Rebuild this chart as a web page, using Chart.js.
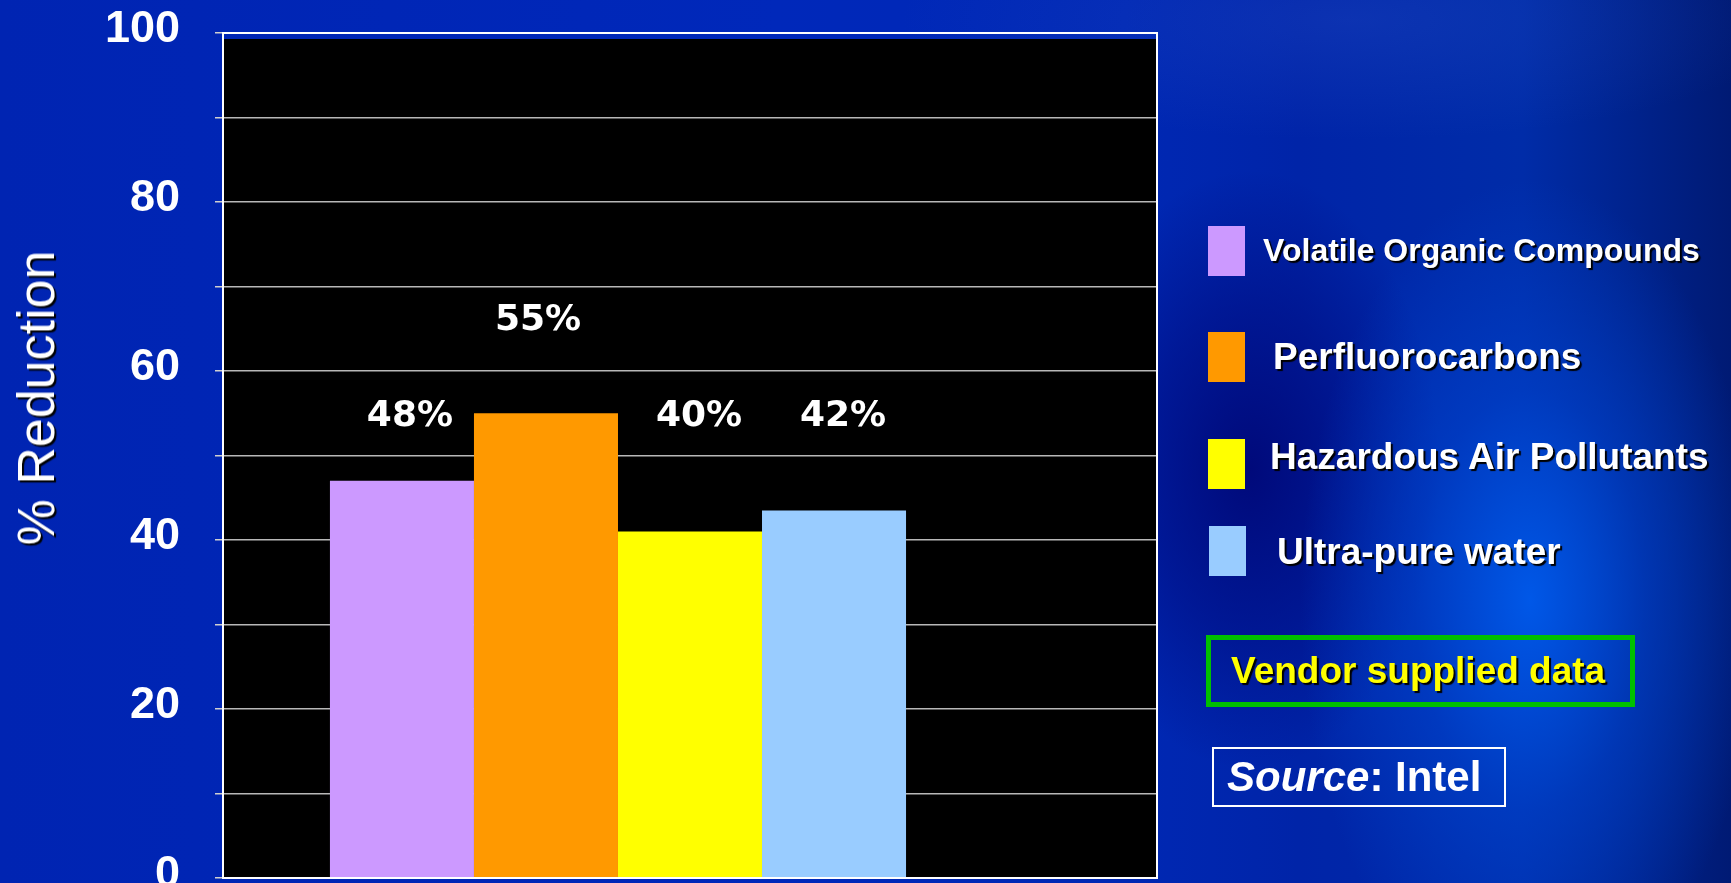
<!DOCTYPE html>
<html>
<head>
<meta charset="utf-8">
<script src="https://cdn.jsdelivr.net/npm/chart.js@4.4.1/dist/chart.umd.min.js"></script>
<style>
	html, body {
		margin: 0;
		padding: 0;
		width: 1731px;
		height: 883px;
		overflow: hidden;
	}
	body {
		position: relative;
		font-family: "Liberation Sans", Arial, sans-serif;
		background:
			radial-gradient(ellipse 230px 420px at 1530px 600px, rgba(0, 90, 235, 0.95) 0%, rgba(0, 70, 210, 0.55) 50%, rgba(0, 40, 170, 0) 100%),
			radial-gradient(ellipse 190px 300px at 1250px 470px, rgba(0, 8, 120, 0.95) 0%, rgba(0, 10, 125, 0.5) 55%, rgba(0, 10, 125, 0) 100%),
			radial-gradient(ellipse 450px 120px at 1350px 20px, rgba(40, 80, 200, 0.3) 0%, rgba(40, 80, 200, 0) 100%),
			linear-gradient(to right, #0024b2 0%, #0028ba 45%, #0028b4 65%, #0024a8 75%, #002ca8 88%, #001a74 100%);
	}
	#wrap {
		position: absolute;
		left: 0;
		top: 0;
	}
	.ytitle {
		position: absolute;
		left: 36px;
		top: 398px;
		transform: translate(-50%, -50%) rotate(-90deg);
		color: #fff;
		font-size: 52px;
		white-space: nowrap;
		text-shadow: -2px 2px 1px #000;
	}
	.legend-box {
		position: absolute;
		width: 37px;
		height: 50px;
	}
	.legend-text {
		position: absolute;
		color: #fff;
		font-weight: bold;
		white-space: nowrap;
		transform: translateY(-50%);
		text-shadow: 2px 2px 1px #000;
	}
	.vendor {
		position: absolute;
		left: 1206px;
		top: 635px;
		width: 429px;
		height: 72px;
		box-sizing: border-box;
		border: 5px solid #00c000;
		color: #ffff00;
		font-weight: bold;
		font-size: 37px;
		line-height: 62px;
		padding-left: 20px;
		white-space: nowrap;
		text-shadow: 2px 2px 1px #000;
	}
	.source {
		position: absolute;
		left: 1212px;
		top: 747px;
		width: 294px;
		height: 60px;
		box-sizing: border-box;
		border: 2px solid #fff;
		color: #fff;
		font-weight: bold;
		font-size: 42px;
		line-height: 56px;
		padding-left: 13px;
		white-space: nowrap;
	}
</style>
</head>
<body>
<div id="wrap"><canvas id="reduction-chart" width="1731" height="883"></canvas></div>
<div class="ytitle">% Reduction</div>
<div id="legend"></div>
<div class="vendor">Vendor supplied data</div>
<div class="source"><i>Source</i>: Intel</div>

<script>
// chart values
var series = [
	"Volatile Organic Compounds",
	"Perfluorocarbons",
	"Hazardous Air Pollutants",
	"Ultra-pure water",
];
var reduction = [47, 55, 41, 43.5];
var value_labels = ["48%", "55%", "40%", "42%"];
var series_colors = ["#cc99ff", "#ff9900", "#ffff00", "#99ccff"];
var y_min = 0;
var y_max = 100;
var y_step = 10;
var y_label_step = 20;

// legend rows (layout only)
var legend_rows = [
	{ top: 226, left: 1208, text_left: 1263, text_y: 250, size: 32 },
	{ top: 332, left: 1208, text_left: 1273, text_y: 357, size: 37 },
	{ top: 439, left: 1208, text_left: 1270, text_y: 457, size: 37 },
	{ top: 526, left: 1209, text_left: 1277, text_y: 552, size: 37 },
];

var legend_html = [];
series.forEach(function (name, i) {
	var row = legend_rows[i];
	legend_html.push(
		'<div class="legend-box" style="left:' + row.left + "px;top:" + row.top +
			"px;background:" + series_colors[i] + '"></div>'
	);
	legend_html.push(
		'<div class="legend-text" style="left:' + row.text_left + "px;top:" + row.text_y +
			"px;font-size:" + row.size + 'px">' + name + "</div>"
	);
});
document.getElementById("legend").innerHTML = legend_html.join("");

var datasets = series.map(function (name, i) {
	return {
		label: name,
		data: [reduction[i]],
		backgroundColor: series_colors[i],
		borderWidth: 0,
	};
});
// empty fifth slot, the original leaves room for one more bar on the right
datasets.push({ label: "", data: [null], backgroundColor: "rgba(0,0,0,0)" });

var plotBox = {
	id: "plotBox",
	beforeDraw: function (chart) {
		var a = chart.chartArea;
		var ctx = chart.ctx;
		ctx.save();
		ctx.fillStyle = "#000";
		ctx.fillRect(a.left, a.top + 6, a.right - a.left, a.bottom - a.top - 6);
		ctx.restore();
	},
	afterDraw: function (chart) {
		var a = chart.chartArea;
		var ctx = chart.ctx;
		ctx.save();
		ctx.strokeStyle = "#ffffff";
		ctx.lineWidth = 2;
		ctx.strokeRect(a.left, a.top, a.right - a.left, a.bottom - a.top);
		ctx.restore();
	},
};

var valueText = {
	id: "valueText",
	afterDatasetsDraw: function (chart, args, opts) {
		var ctx = chart.ctx;
		var y_scale = chart.scales.y;
		ctx.save();
		ctx.fillStyle = "#ffffff";
		ctx.font = "bold 36px 'DejaVu Sans'";
		ctx.textAlign = "center";
		ctx.textBaseline = "middle";
		value_labels.forEach(function (txt, i) {
			var bar = chart.getDatasetMeta(i).data[0];
			ctx.fillText(txt, bar.x + opts.dx[i], y_scale.getPixelForValue(opts.at[i]));
		});
		ctx.restore();
	},
};

new Chart(document.getElementById("reduction-chart"), {
	type: "bar",
	data: {
		labels: [""],
		datasets: datasets,
	},
	options: {
		responsive: false,
		animation: false,
		layout: {
			padding: { left: 0, top: 33, right: 574, bottom: 5 },
		},
		datasets: {
			bar: {
				barPercentage: 1,
				categoryPercentage: 0.771,
			},
		},
		plugins: {
			legend: { display: false },
			tooltip: { enabled: false },
			valueText: {
				at: [54.6, 66, 54.6, 54.6],
				dx: [8, -8, 9, 9],
			},
		},
		scales: {
			x: {
				display: false,
			},
			y: {
				min: y_min,
				max: y_max,
				afterFit: function (scale) {
					scale.width = 223;
					scale.paddingTop = 0;
					scale.paddingBottom = 0;
				},
				border: { display: true, color: "#ffffff", width: 2 },
				grid: {
					color: "#b8b8b8",
					lineWidth: 1.5,
					tickColor: "#d0d0d0",
					tickLength: 8,
				},
				ticks: {
					stepSize: y_step,
					padding: 35,
					labelOffset: -3,
					color: "#ffffff",
					font: { family: "'Liberation Sans', Arial", size: 45, weight: "bold" },
					callback: function (v) {
						return v % y_label_step === 0 ? v : "";
					},
				},
			},
		},
	},
	plugins: [plotBox, valueText],
});
</script>
</body>
</html>
